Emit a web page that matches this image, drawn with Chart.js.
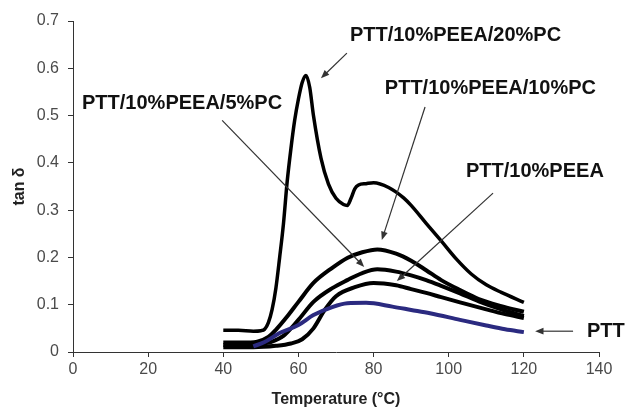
<!DOCTYPE html>
<html>
<head>
<meta charset="utf-8">
<script src="https://cdn.jsdelivr.net/npm/chart.js@4"></script>
<style>
  html, body { margin: 0; padding: 0; background: #fff; }
  #wrap { width: 632px; height: 412px; }
</style>
</head>
<body>
<div id="wrap"><canvas id="chart"></canvas></div>
<script>
// --- datos ---
const xTicks = [0, 20, 40, 60, 80, 100, 120, 140];
const yTicks = [0, 0.1, 0.2, 0.3, 0.4, 0.5, 0.6, 0.7];

// PTT/10%PEEA/20%PC
const x20pc = [40, 44, 48, 50, 51, 52, 53, 54, 55, 56, 57, 58, 59, 60, 61, 62, 63, 64, 66, 68, 70, 72, 73, 74, 75, 76, 78, 80, 84, 88, 90, 94, 98, 102, 106, 110, 114, 120];
const y20pc = [0.046, 0.046, 0.044, 0.045, 0.048, 0.062, 0.09, 0.135, 0.2, 0.27, 0.36, 0.43, 0.49, 0.535, 0.57, 0.585, 0.56, 0.5, 0.41, 0.355, 0.325, 0.312, 0.31, 0.325, 0.345, 0.353, 0.356, 0.358, 0.348, 0.326, 0.31, 0.272, 0.235, 0.197, 0.165, 0.142, 0.126, 0.105];

// PTT/10%PEEA/10%PC
const x10pc = [40, 45, 49, 52, 54, 57, 60, 64, 69, 73, 77, 81, 86, 90, 94, 98, 103, 108, 114, 120];
const y10pc = [0.02, 0.02, 0.022, 0.032, 0.047, 0.075, 0.106, 0.146, 0.178, 0.199, 0.211, 0.217, 0.208, 0.193, 0.173, 0.152, 0.131, 0.112, 0.097, 0.085];

// PTT/10%PEEA/5%PC
const x5pc = [40, 46, 50, 53, 56, 60, 64, 69, 73, 77, 81, 86, 90, 94, 98, 103, 108, 114, 120];
const y5pc = [0.015, 0.015, 0.017, 0.022, 0.034, 0.068, 0.106, 0.135, 0.152, 0.167, 0.175, 0.17, 0.162, 0.152, 0.14, 0.124, 0.107, 0.09, 0.076];

// PTT/10%PEEA
const xPeea = [40, 48, 54, 58, 61, 64, 67, 70, 75, 80, 86, 90, 94, 98, 103, 110, 115, 120];
const yPeea = [0.01, 0.01, 0.013, 0.018, 0.027, 0.05, 0.089, 0.118, 0.137, 0.146, 0.141, 0.133, 0.125, 0.116, 0.105, 0.09, 0.08, 0.072];

// PTT
const xPtt = [48, 51, 55, 60, 64, 69, 73, 78, 85, 90, 95, 103, 110, 115, 120];
const yPtt = [0.012, 0.021, 0.04, 0.057, 0.078, 0.095, 0.103, 0.104, 0.096, 0.089, 0.082, 0.068, 0.056, 0.048, 0.042];

// etiquetas con flecha (coordenadas en unidades de los ejes)
const etiquetas = ['PTT/10%PEEA/20%PC', 'PTT/10%PEEA/10%PC', 'PTT/10%PEEA/5%PC', 'PTT/10%PEEA', 'PTT'];
const textoX = [73.7, 83.0, 2.4, 104.6, 136.8];
const textoY = [0.67, 0.558, 0.526, 0.381, 0.044];
const flechaDesde = [[72.9, 0.632], [93.7, 0.518], [39.7, 0.49], [111.8, 0.336], [133.1, 0.044]];
const flechaHasta = [[66.0, 0.579], [82.2, 0.237], [77.5, 0.18], [86.2, 0.15], [123.0, 0.044]];

const FUENTE = '"Liberation Sans", Arial, Helvetica, sans-serif';

function puntos(xs, ys) {
    return xs.map((x, i) => ({ x: x, y: ys[i] }));
}

function serie(label, xs, ys, color, ancho) {
    return {
        label: label,
        data: puntos(xs, ys),
        borderColor: color,
        borderWidth: ancho,
        pointRadius: 0,
        fill: false,
        cubicInterpolationMode: 'monotone',
        borderCapStyle: 'butt',
        borderJoinStyle: 'round'
    };
}

// plugin sencillo para dibujar textos y flechas
const anotaciones = {
    id: 'anotaciones',
    afterDatasetsDraw(chart) {
        const ctx = chart.ctx;
        const sx = chart.scales.x;
        const sy = chart.scales.y;
        ctx.save();
        // flechas
        ctx.strokeStyle = '#333';
        ctx.fillStyle = '#333';
        ctx.lineWidth = 1.2;
        for (let i = 0; i < flechaDesde.length; i++) {
            const x1 = sx.getPixelForValue(flechaDesde[i][0]);
            const y1 = sy.getPixelForValue(flechaDesde[i][1]);
            const x2 = sx.getPixelForValue(flechaHasta[i][0]);
            const y2 = sy.getPixelForValue(flechaHasta[i][1]);
            const ang = Math.atan2(y2 - y1, x2 - x1);
            const largo = 9, abre = 0.38;
            ctx.beginPath();
            ctx.moveTo(x1, y1);
            ctx.lineTo(x2 - Math.cos(ang) * largo * 0.8, y2 - Math.sin(ang) * largo * 0.8);
            ctx.stroke();
            ctx.beginPath();
            ctx.moveTo(x2, y2);
            ctx.lineTo(x2 - largo * Math.cos(ang - abre), y2 - largo * Math.sin(ang - abre));
            ctx.lineTo(x2 - largo * Math.cos(ang + abre), y2 - largo * Math.sin(ang + abre));
            ctx.closePath();
            ctx.fill();
        }
        // textos
        ctx.fillStyle = '#111';
        ctx.font = 'bold 20px ' + FUENTE;
        ctx.textAlign = 'left';
        ctx.textBaseline = 'middle';
        etiquetas.forEach((t, i) => {
            ctx.fillText(t, sx.getPixelForValue(textoX[i]), sy.getPixelForValue(textoY[i]));
        });
        ctx.restore();
    }
};

const ctx = document.getElementById('chart').getContext('2d');
new Chart(ctx, {
    type: 'line',
    data: {
        datasets: [
            serie('PTT', xPtt, yPtt, '#2B2A80', 4),
            serie('PTT/10%PEEA', xPeea, yPeea, '#000', 4),
            serie('PTT/10%PEEA/5%PC', x5pc, y5pc, '#000', 4),
            serie('PTT/10%PEEA/10%PC', x10pc, y10pc, '#000', 4),
            serie('PTT/10%PEEA/20%PC', x20pc, y20pc, '#000', 3.5)
        ]
    },
    options: {
        responsive: true,
        maintainAspectRatio: false,
        animation: false,
        layout: { padding: { top: 21, right: 33, left: 0, bottom: 0 } },
        plugins: {
            legend: { display: false },
            tooltip: { enabled: false }
        },
        scales: {
            x: {
                type: 'linear',
                min: 0,
                max: 140,
                afterBuildTicks: s => { s.ticks = xTicks.map(v => ({ value: v })); },
                afterFit: s => { s.height = 60; },
                grid: { drawOnChartArea: false, color: '#333', tickLength: 5 },
                border: { color: '#333', width: 1 },
                ticks: { color: '#4a4a4a', font: { family: FUENTE, size: 16 }, padding: 3, maxRotation: 0 },
                title: {
                    display: true,
                    text: 'Temperature (°C)',
                    color: '#222',
                    font: { family: FUENTE, size: 16, weight: 'bold' },
                    padding: { top: 3, bottom: 3 }
                }
            },
            y: {
                type: 'linear',
                min: 0,
                max: 0.7,
                afterBuildTicks: s => { s.ticks = yTicks.map(v => ({ value: v })); },
                afterFit: s => { s.width = 73; },
                grid: { drawOnChartArea: false, color: '#333', tickLength: 5 },
                border: { color: '#333', width: 1 },
                ticks: {
                    color: '#4a4a4a',
                    font: { family: FUENTE, size: 16 },
                    padding: 9,
                    callback: v => String(Math.round(v * 10) / 10)
                },
                title: {
                    display: true,
                    text: 'tan δ',
                    color: '#222',
                    font: { family: FUENTE, size: 16, weight: 'bold' },
                    padding: { top: 10, bottom: 0 }
                }
            }
        }
    },
    plugins: [anotaciones]
});
</script>
</body>
</html>
